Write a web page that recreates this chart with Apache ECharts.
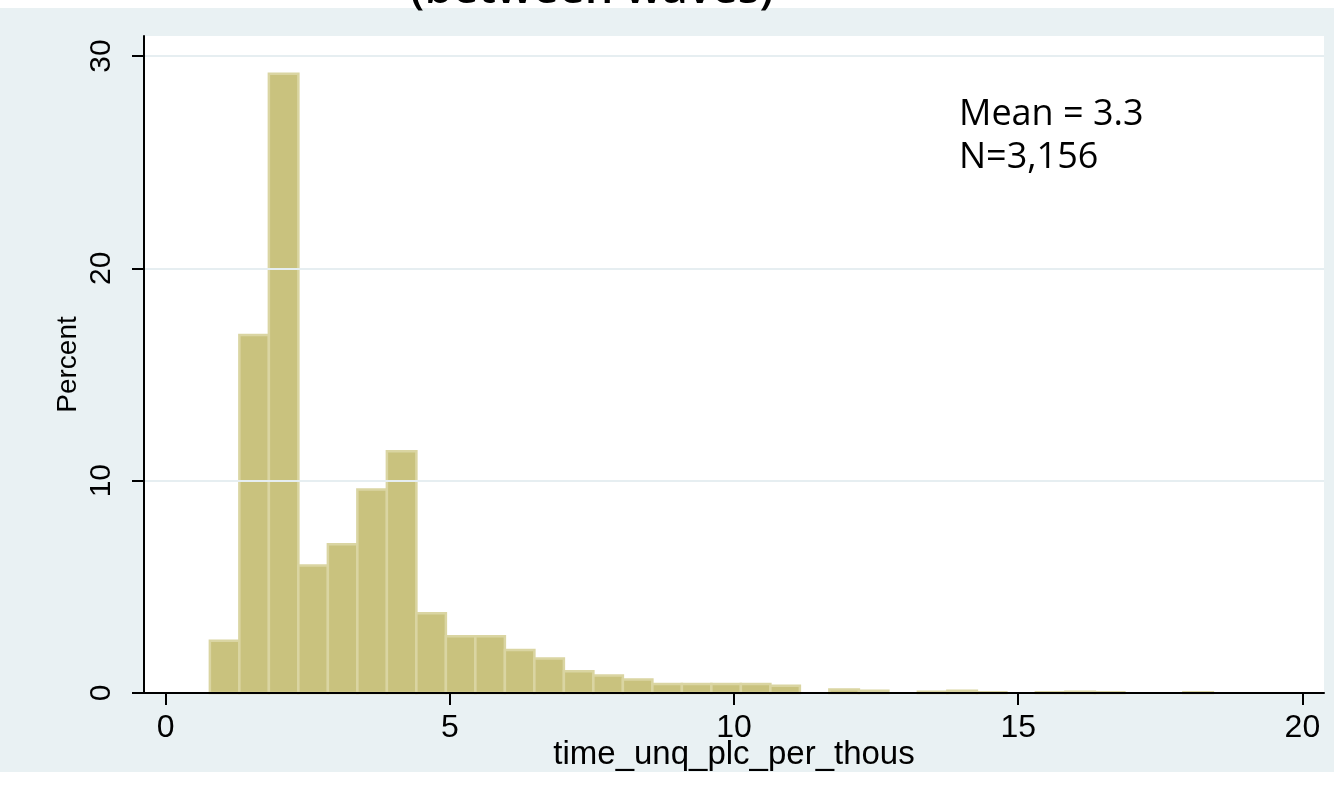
<!DOCTYPE html>
<html><head><meta charset="utf-8">
<script src="https://cdn.jsdelivr.net/npm/echarts@6/dist/echarts.min.js"></script>
<style>html,body{margin:0;padding:0;background:#fff}#c{width:1334px;height:795px}</style>
</head><body><div id="c"></div>
<script>
// Histogram data (percent per bin), 34 equal-width bins
const binStart = 0.779;
const binWidth = 0.519;
const percents = [2.46,16.86,29.16,6.01,7.0,9.58,11.38,3.75,2.67,2.67,2.03,1.63,1.02,0.82,0.63,0.42,0.42,0.42,0.42,0.34,0,0.16,0.11,0,0.06,0.11,0.03,0,0.03,0.06,0.03,0,0,0.03];
const xTicks = [0,5,10,15,20];
const yTicks = [0,10,20,30];
const annotation = ['Mean = 3.3','N=3,156'];
const titleText = '(between waves)';
const xName = 'time_unq_plc_per_thous';
const yName = 'Percent';

const BG = '#E9F1F3';
const binData = percents.map((v,i)=>[binStart+i*binWidth, binStart+(i+1)*binWidth, v]);

const chart = echarts.init(document.getElementById('c'), null, {renderer:'canvas'});
chart.setOption({
  backgroundColor: BG,
  animation: false,
  grid: {left:144, right:10, top:36, bottom:102, show:true, backgroundColor:'#fff', borderWidth:0},
  xAxis: {
    type:'value', min:-0.38, max:20.38, z:5,
    axisLine:{show:true, onZero:false, lineStyle:{color:'#000', width:2}},
    axisTick:{show:true, customValues:xTicks, length:12, lineStyle:{color:'#000', width:2}},
    axisLabel:{customValues:xTicks, fontSize:32, color:'#000', margin:19, fontFamily:'Liberation Sans'},
    splitLine:{show:false},
    name:xName, nameLocation:'middle', nameGap:45, nameMoveOverlap:false,
    nameTextStyle:{fontSize:33, color:'#000', fontFamily:'Liberation Sans'}
  },
  yAxis: {
    type:'value', min:0, max:30.94, interval:10, z:5,
    axisLine:{show:true, onZero:false, lineStyle:{color:'#000', width:2}},
    axisTick:{show:true, customValues:yTicks, length:12, lineStyle:{color:'#000', width:2}},
    axisLabel:{customValues:yTicks, rotate:90, fontSize:30, color:'#000', margin:27, fontFamily:'Liberation Sans'},
    splitLine:{show:true, lineStyle:{color:'#E6EEF1', width:2}},
    name:yName, nameLocation:'middle', nameGap:62, nameMoveOverlap:false,
    nameTextStyle:{fontSize:28, color:'#000', fontFamily:'Liberation Sans'}
  },
  graphic:[
    {type:'rect', z:1, silent:true, shape:{x:0,y:0,width:1334,height:8}, style:{fill:'#fff'}},
    {type:'rect', z:1, silent:true, shape:{x:0,y:772,width:1334,height:23}, style:{fill:'#fff'}},
    {type:'text', z:10, x:592, y:-10, style:{text:titleText, font:'600 45px "Open Sans"', fill:'#000', textAlign:'center', textVerticalAlign:'middle'}},
    {type:'text', z:10, x:959, y:115, style:{text:annotation[0], font:'36px "Open Sans"', fill:'#000', textAlign:'left', textVerticalAlign:'middle'}},
    {type:'text', z:10, x:959, y:158, style:{text:annotation[1], font:'36px "Open Sans"', fill:'#000', textAlign:'left', textVerticalAlign:'middle'}}
  ],
  series:[{
    type:'custom', z:2,
    data: binData,
    encode:{x:[0,1], y:2},
    renderItem(params, api){
      const x0=api.value(0), x1=api.value(1), v=api.value(2);
      if(!v) return null;
      const p0=api.coord([x0,v]), p1=api.coord([x1,0]);
      return {type:'rect', shape:{x:p0[0], y:p0[1], width:p1[0]-p0[0], height:p1[1]-p0[1]},
        style:{fill:'#C9C27E', stroke:'#DAD5A2', lineWidth:2.5}};
    }
  }]
});
</script></body></html>
